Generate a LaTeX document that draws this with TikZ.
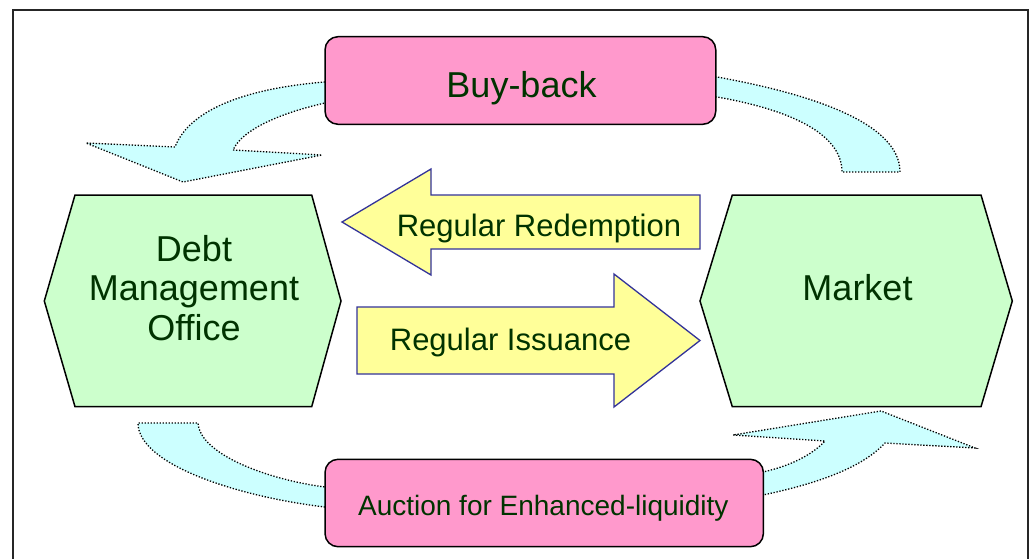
\documentclass[tikz,border=0pt]{standalone}
\usepackage{fontspec}
\setmainfont{Liberation Sans}
\definecolor{pinkfill}{HTML}{FF99CC}
\definecolor{greenfill}{HTML}{CCFFCC}
\definecolor{cyanfill}{HTML}{CCFFFF}
\definecolor{yellowfill}{HTML}{FFFF99}
\definecolor{arrowline}{HTML}{333399}
\definecolor{textgreen}{HTML}{003300}
\begin{document}
\begin{tikzpicture}[x=1pt,y=-1pt,
  pinkbox/.style={draw=black,line width=1.5pt,fill=pinkfill,rounded corners=13pt,inner sep=0pt},
  hexa/.style={draw=black,line width=1.5pt,fill=greenfill},
  flow/.style={fill=cyanfill,draw=black,line width=1.3pt,dash pattern=on 1.3pt off 1.7pt},
  bigarrow/.style={fill=yellowfill,draw=arrowline,line width=1.3pt,line join=miter},
  lbl/.style={text=textgreen,anchor=base,inner sep=0pt}]
\useasboundingbox (0,0) rectangle (1031,559);
\clip (0,0) rectangle (1031,559);
\fill[white] (0,0) rectangle (1031,559);
\draw[line width=2pt,draw=black!85] (13,10) rectangle (1028,590);
% cyan flow arrows (behind boxes)
\draw[flow] (340,82) -- (325,82) .. controls (250,88) and (190,108) .. (175,147) -- (86,143) -- (183,182) -- (322,155) -- (233,150) .. controls (243,128) and (285,112) .. (325,103) -- (340,103) -- cycle;
\draw[flow] (700,77) -- (717,77) .. controls (800,92) and (900,120) .. (900,172) -- (842,172) .. controls (842,130) and (780,108) .. (717,97) -- (700,97) -- cycle;
\draw[flow] (340,507) -- (325,507) .. controls (240,497) and (138,465) .. (138,423) -- (198,423) .. controls (200,455) and (270,480) .. (325,487) -- (340,487) -- cycle;
\draw[flow] (750,472) -- (763,472) .. controls (790,466) and (812,455) .. (825,441) -- (733,435) -- (881,411) -- (975,448) -- (885,443) .. controls (860,470) and (810,485) .. (763,495) -- (750,495) -- cycle;
% boxes
\node[pinkbox,minimum width=390.7pt,minimum height=87.6pt] (buyback) at (520.4,80.5) {};
\node[pinkbox,minimum width=438.3pt,minimum height=87.4pt] (auction) at (544.2,503) {};
\node[lbl,font=\fontsize{36}{39}\selectfont] (buybacktext) at (521.5,97.2) {Buy-back};
\node[lbl,font=\fontsize{28}{32}\selectfont] (auctiontext) at (543.3,515) {Auction for Enhanced-liquidity};
% hexagons
\draw[hexa] (75,195) -- (311.7,195) -- (341,301) -- (311.7,406.7) -- (75,406.7) -- (44.3,301) -- cycle;
\draw[hexa] (732.3,195) -- (981,195) -- (1012.3,301) -- (981,406.7) -- (732.3,406.7) -- (700,301) -- cycle;
\node[text=textgreen,inner sep=0pt,align=center,font=\fontsize{36}{39.7}\selectfont] (dmo) at (194,288) {Debt\\Management\\Office};
\node[lbl,font=\fontsize{36}{39}\selectfont] (market) at (857.5,300) {Market};
% yellow arrows
\draw[bigarrow] (342,222) -- (431,169) -- (431,195) -- (700,195) -- (700,249) -- (431,249) -- (431,275) -- cycle;
\draw[bigarrow] (357,307) -- (614,307) -- (614,274) -- (700,340.5) -- (614,407) -- (614,374) -- (357,374) -- cycle;
\node[lbl,font=\fontsize{31}{35}\selectfont] (redemption) at (539,236.7) {Regular Redemption};
\node[lbl,font=\fontsize{31}{35}\selectfont] (issuance) at (510.5,350) {Regular Issuance};
\end{tikzpicture}
\end{document}
